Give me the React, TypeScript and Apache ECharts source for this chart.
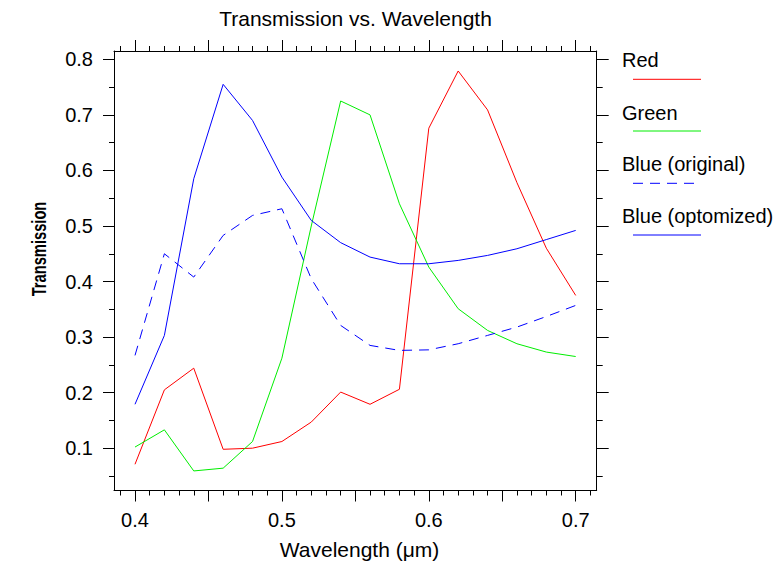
import React, { useEffect, useRef } from "react";
import * as echarts from "echarts";

const wavelengths = [0.40, 0.42, 0.44, 0.46, 0.48, 0.50, 0.52, 0.54, 0.56, 0.58, 0.60, 0.62, 0.64, 0.66, 0.68, 0.70];
const red = [0.071, 0.205, 0.244, 0.098, 0.100, 0.112, 0.147, 0.201, 0.179, 0.206, 0.676, 0.779, 0.709, 0.578, 0.46, 0.375];
const green = [0.102, 0.133, 0.059, 0.064, 0.112, 0.262, 0.50, 0.725, 0.70, 0.54, 0.426, 0.351, 0.312, 0.288, 0.273, 0.265];
const blueOriginal = [0.267, 0.45, 0.408, 0.483, 0.519, 0.531, 0.405, 0.321, 0.285, 0.276, 0.277, 0.288, 0.303, 0.318, 0.337, 0.357];
const blueOptimized = [0.179, 0.303, 0.585, 0.755, 0.69, 0.588, 0.51, 0.47, 0.444, 0.432, 0.432, 0.438, 0.447, 0.459, 0.4755, 0.492];

const seriesNames = ["Red", "Green", "Blue (original)", "Blue (optomized)"];

const xLabelTicks = [0.4, 0.5, 0.6, 0.7];
const xMajorTicks = [0.4, 0.45, 0.5, 0.55, 0.6, 0.65, 0.7];
const xMinorTicks = [0.39, 0.41, 0.42, 0.43, 0.44, 0.46, 0.47, 0.48, 0.49, 0.51, 0.52, 0.53, 0.54, 0.56, 0.57, 0.58, 0.59, 0.61, 0.62, 0.63, 0.64, 0.66, 0.67, 0.68, 0.69, 0.71];
const yMajorTicks = [0.1, 0.2, 0.3, 0.4, 0.5, 0.6, 0.7, 0.8];
const yMinorTicks = [0.05, 0.15, 0.25, 0.35, 0.45, 0.55, 0.65, 0.75];

const X_MIN = 0.3857;
const X_MAX = 0.7143;
const Y_MIN = 0.0238;
const Y_MAX = 0.815;

const FONT = "'Liberation Sans', Arial, sans-serif";

function makeAxis(
  kind: "x" | "y",
  position: string,
  ticks: number[],
  tickLen: number,
  showLine: boolean,
  labels: number[] | null
) {
  return {
    type: "value",
    min: kind === "x" ? X_MIN : Y_MIN,
    max: kind === "x" ? X_MAX : Y_MAX,
    position,
    gridIndex: 0,
    splitLine: { show: false },
    axisLine: { show: showLine, onZero: false, lineStyle: { color: "#000", width: 1 } },
    axisTick: {
      show: true,
      inside: false,
      length: tickLen,
      customValues: ticks,
      lineStyle: { color: "#000", width: 1 },
    },
    axisLabel: labels
      ? {
          show: true,
          customValues: labels,
          formatter: (v: number) => v.toFixed(1),
          color: "#000",
          fontSize: 20,
          fontFamily: FONT,
          margin: kind === "x" ? 29.5 : 21,
          verticalAlign: "middle",
          align: kind === "x" ? "center" : "right",
        }
      : { show: false },
    axisPointer: { show: false },
  };
}

export default function App() {
  const ref = useRef<HTMLDivElement>(null);

  useEffect(() => {
    if (!ref.current) return;
    const chart = echarts.init(ref.current, undefined, { renderer: "svg" });

    const mk = (vals: number[]) => wavelengths.map((w, i) => [w, vals[i]]);

    const legendTop = [60, 112.5, 164, 215.5];
    const legendLineY = [79.3, 131, 183.3, 235];
    const colors = ["#ff0000", "#00ee00", "#0000ff", "#0000ff"];
    const legendGraphics: any[] = [];
    seriesNames.forEach((name, i) => {
      legendGraphics.push({
        type: "text",
        x: 622,
        y: legendTop[i],
        style: {
          text: name,
          fill: "#000",
          font: `20px ${FONT}`,
          align: "left",
          verticalAlign: "middle",
        },
      });
      legendGraphics.push({
        type: "line",
        shape: { x1: 633, y1: legendLineY[i], x2: 701, y2: legendLineY[i] },
        style: {
          stroke: colors[i],
          lineWidth: 1,
          lineDash: i === 2 ? [10, 7] : null,
        },
      });
    });

    chart.setOption({
      animation: false,
      backgroundColor: "#fff",
      grid: { left: 114, top: 51, right: 176.3, bottom: 73.5, containLabel: false },
      xAxis: [
        makeAxis("x", "bottom", xMajorTicks, 11, true, xLabelTicks),
        makeAxis("x", "bottom", xMinorTicks, 5, false, null),
        makeAxis("x", "top", xMajorTicks, 11, true, null),
        makeAxis("x", "top", xMinorTicks, 5, false, null),
      ],
      yAxis: [
        makeAxis("y", "left", yMajorTicks, 11, true, yMajorTicks),
        makeAxis("y", "left", yMinorTicks, 5, false, null),
        makeAxis("y", "right", yMajorTicks, 12, true, null),
        makeAxis("y", "right", yMinorTicks, 6, false, null),
      ],
      series: [
        { name: seriesNames[0], data: mk(red), color: colors[0], lineStyle: { width: 1, color: colors[0] } },
        { name: seriesNames[1], data: mk(green), color: colors[1], lineStyle: { width: 1, color: colors[1] } },
        { name: seriesNames[2], data: mk(blueOriginal), color: colors[2], lineStyle: { width: 1, color: colors[2], type: [10, 7] } },
        { name: seriesNames[3], data: mk(blueOptimized), color: colors[3], lineStyle: { width: 1, color: colors[3] } },
      ].map((s) => ({
        ...s,
        type: "line",
        xAxisIndex: 0,
        yAxisIndex: 0,
        showSymbol: false,
        symbol: "none",
        silent: true,
      })),
      graphic: [
        {
          type: "text",
          x: 355.5,
          y: 18,
          style: {
            text: "Transmission vs. Wavelength",
            fill: "#000",
            font: `21px ${FONT}`,
            align: "center",
            verticalAlign: "middle",
          },
        },
        {
          type: "text",
          x: 359.5,
          y: 549,
          style: {
            text: "Wavelength (\u03bcm)",
            fill: "#000",
            font: `21px ${FONT}`,
            align: "center",
            verticalAlign: "middle",
          },
        },
        {
          type: "text",
          x: 38.7,
          y: 249,
          rotation: Math.PI / 2,
          scaleX: 0.7,
          scaleY: 1,
          style: {
            text: "Transmission",
            fill: "#000",
            font: `bold 21px ${FONT}`,
            align: "center",
            verticalAlign: "middle",
          },
        },
        ...legendGraphics,
      ],
    });

    return () => chart.dispose();
  }, []);

  return (
    <div
      ref={ref}
      style={{ position: "fixed", left: 0, top: 0, width: 773, height: 564, background: "#fff" }}
    />
  );
}
